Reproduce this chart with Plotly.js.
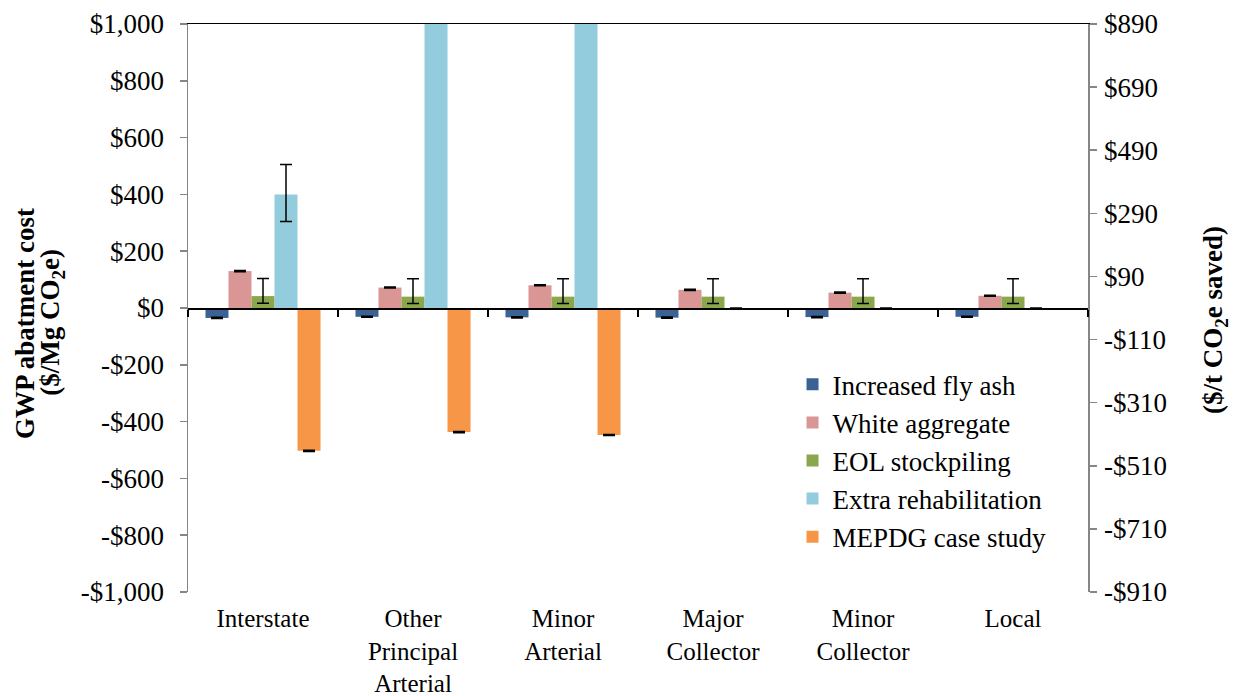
<!DOCTYPE html>
<html>
<head>
<meta charset="utf-8">
<script src="https://cdn.plot.ly/plotly-3.0.1.min.js"></script>
<style>html,body{margin:0;padding:0;background:#fff;}#chart{width:1233px;height:696px;}</style>
</head>
<body>
<div id="chart"></div>
<script>
const categories = ["Interstate", "Other<br>Principal<br>Arterial", "Minor<br>Arterial", "Major<br>Collector", "Minor<br>Collector", "Local"];
const seriesNames = ["Increased fly ash", "White aggregate", "EOL stockpiling", "Extra rehabilitation", "MEPDG case study"];
const seriesColors = ["#3a6294", "#d99694", "#8aa84b", "#93cddd", "#f79646"];

const flyAsh = [-35, -31, -33, -34, -32, -31];
const flyAshErr = [2, 2, 2, 2, 2, 2];
const whiteAggregate = [130, 72, 80, 64, 54, 43];
const whiteAggregateErr = [2, 2, 2, 2, 2, 2];
const eolStockpiling = [42, 40, 40, 40, 40, 40];
const eolErrPlus = [62, 63, 63, 63, 63, 63];
const eolErrMinus = [25, 24, 24, 24, 24, 24];
const extraRehab = [400, 3000, 3000, 0, 0, 0];
const extraRehabErrPlus = [105, 0, 0, 0, 0, 0];
const extraRehabErrMinus = [95, 0, 0, 0, 0, 0];
const mepdg = [-503, -437, -447, null, null, null];
const mepdgErr = [2, 2, 2, 0, 0, 0];

const leftTickVals = [1000, 800, 600, 400, 200, 0, -200, -400, -600, -800, -1000];
const leftTickText = ["$1,000", "$800", "$600", "$400", "$200", "$0", "-$200", "-$400", "-$600", "-$800", "-$1,000"];
const rightTickVals = [890, 690, 490, 290, 90, -110, -310, -510, -710, -910];
const rightTickText = ["$890", "$690", "$490", "$290", "$90", "-$110", "-$310", "-$510", "-$710", "-$910"];

const leftTitle1 = "<b>GWP abatment cost</b>";
const leftTitle2 = "<b>($/Mg CO<sub>2</sub>e)</b>";
const rightTitle = "<b>($/t CO<sub>2</sub>e saved)</b>";

const values = [flyAsh, whiteAggregate, eolStockpiling, extraRehab, mepdg];
const errPlus = [flyAshErr, whiteAggregateErr, eolErrPlus, extraRehabErrPlus, mepdgErr];
const errMinus = [flyAshErr, whiteAggregateErr, eolErrMinus, extraRehabErrMinus, mepdgErr];

const FONT = "Liberation Serif, Times New Roman, serif";
const FS = 27;

const traces = seriesNames.map((name, k) => ({
  type: "bar",
  name: name,
  x: categories,
  y: values[k],
  xaxis: "x",
  yaxis: "y",
  marker: {color: seriesColors[k], line: {width: 0}},
  error_y: {type: "data", symmetric: false, array: errPlus[k], arrayminus: errMinus[k], color: "#000", thickness: 1.5, width: 6},
  hoverinfo: "x+y"
}));

const labelVals = categories.map((c, i) => i);
const emptyY = categories.map(() => null);
// helper traces so that the label axis, top border axis and right axis get drawn
traces.push({type: "scatter", mode: "markers", x: labelVals, y: emptyY, xaxis: "x2", yaxis: "y2", showlegend: false, hoverinfo: "skip", marker: {opacity: 0}});
traces.push({type: "scatter", mode: "markers", x: labelVals, y: emptyY, xaxis: "x3", yaxis: "y", showlegend: false, hoverinfo: "skip", marker: {opacity: 0}});

const layout = {
  width: 1233, height: 696,
  margin: {l: 188, r: 145, t: 24, b: 104},
  paper_bgcolor: "#fff", plot_bgcolor: "#fff",
  font: {family: FONT, size: FS, color: "#000"},
  barmode: "group",
  bargap: 0.233,
  bargroupgap: 0,
  showlegend: true,
  legend: {x: 0.6717, y: 0.408, xanchor: "left", yanchor: "top", font: {family: FONT, size: FS, color: "#000"}, bgcolor: "rgba(0,0,0,0)", tracegroupgap: 0},
  xaxis: {
    type: "category", anchor: "free", position: 0.5,
    showline: true, linecolor: "#000", linewidth: 1.5,
    ticks: "outside", tickson: "boundaries", ticklen: 7, tickcolor: "#000", tickwidth: 1.5,
    showticklabels: false, showgrid: false, zeroline: false
  },
  xaxis2: {
    overlaying: "x", anchor: "y", side: "bottom", type: "linear",
    range: [-0.5, categories.length - 0.5],
    tickmode: "array", tickvals: labelVals, ticktext: categories,
    ticks: "", showline: false, showgrid: false, zeroline: false,
    tickfont: {family: FONT, size: 25, color: "#000"}, ticklabelstandoff: 9
  },
  xaxis3: {
    overlaying: "x", anchor: "y", side: "top", type: "linear",
    range: [-0.5, categories.length - 0.5],
    showline: true, linecolor: "#000", linewidth: 1.5,
    ticks: "", showticklabels: false, showgrid: false, zeroline: false
  },
  yaxis: {
    range: [-1000, 1000], tickmode: "array", tickvals: leftTickVals, ticktext: leftTickText,
    showline: true, linecolor: "#868686", linewidth: 1.5,
    ticks: "outside", ticklen: 7, tickcolor: "#868686", tickwidth: 1.5,
    showgrid: false, zeroline: false,
    tickfont: {family: FONT, size: FS, color: "#000"}, ticklabelstandoff: 10
  },
  yaxis2: {
    overlaying: "y", side: "right", anchor: "x2",
    range: [-910, 890], tickmode: "array", tickvals: rightTickVals, ticktext: rightTickText,
    showline: true, linecolor: "#868686", linewidth: 1.5,
    ticks: "outside", ticklen: 7, tickcolor: "#868686", tickwidth: 1.5,
    showgrid: false, zeroline: false,
    tickfont: {family: FONT, size: FS, color: "#000"}, ticklabelstandoff: 2
  },
  annotations: [
    {text: leftTitle1, xref: "paper", yref: "paper", x: (25 - 188) / 900, y: 0.472, xanchor: "center", yanchor: "middle", textangle: -90, showarrow: false, font: {family: FONT, size: FS, color: "#000"}},
    {text: leftTitle2, xref: "paper", yref: "paper", x: (52 - 188) / 900, y: 0.474, xanchor: "center", yanchor: "middle", textangle: -90, showarrow: false, font: {family: FONT, size: FS, color: "#000"}},
    {text: rightTitle, xref: "paper", yref: "paper", x: (1215 - 188) / 900, y: 0.479, xanchor: "center", yanchor: "middle", textangle: -90, showarrow: false, font: {family: FONT, size: FS, color: "#000"}}
  ]
};

Plotly.newPlot("chart", traces, layout, {displayModeBar: false, staticPlot: true});
</script>
</body>
</html>
